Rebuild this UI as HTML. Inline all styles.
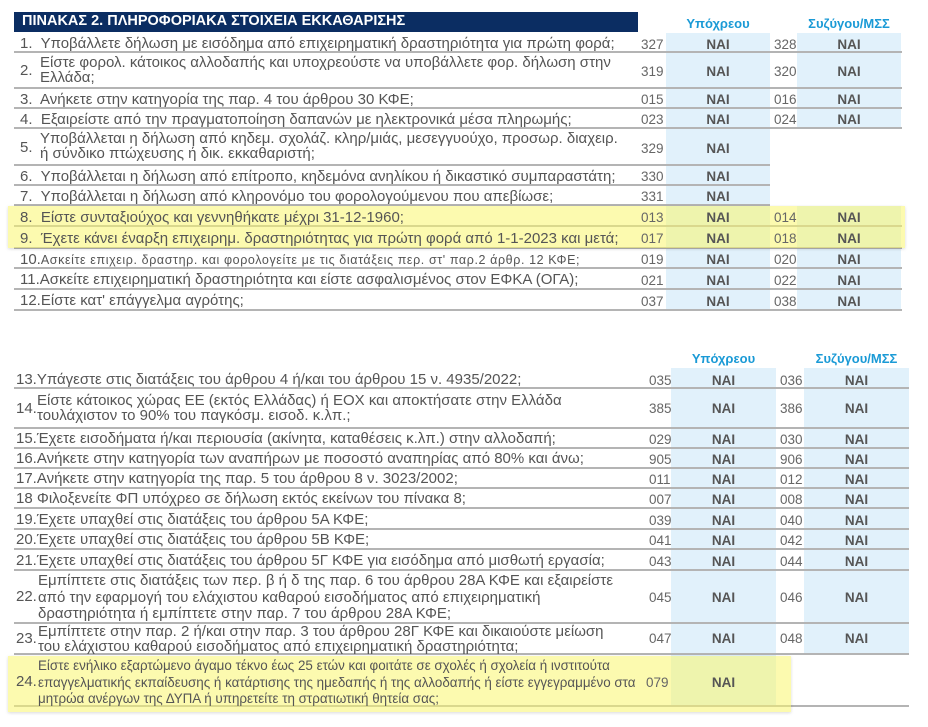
<!DOCTYPE html>
<html><head><meta charset="utf-8">
<style>
*{margin:0;padding:0;box-sizing:border-box}
body{width:928px;height:727px;background:#fff;position:relative;overflow:hidden;font-family:"Liberation Sans","DejaVu Sans",sans-serif;color:#555}
.a{position:absolute}
.blue{position:absolute;background:#e1f1fb}
.line{position:absolute;height:2px;background:#b4b4b4}
.t{position:absolute;white-space:nowrap;font-size:15px;line-height:15px;color:#555}
.c{position:absolute;font-size:13.5px;color:#666;white-space:nowrap}
.n{position:absolute;font-size:13.5px;font-weight:bold;color:#555;text-align:center}
.h{position:absolute;font-size:13px;font-weight:bold;color:#1a9ad6;text-align:center}
.y{position:absolute;background:rgba(250,245,110,0.55);box-shadow:0 1px 3px rgba(0,0,0,0.15)}
</style></head><body>

<div class="a" style="left:14px;top:12px;width:624px;height:20px;background:#0b2d62"></div>
<div class="t" style="left:22px;top:14px;color:#fff;font-weight:bold;font-size:14.5px">ΠΙΝΑΚΑΣ 2. ΠΛΗΡΟΦΟΡΙΑΚΑ ΣΤΟΙΧΕΙΑ ΕΚΚΑΘΑΡΙΣΗΣ</div>
<div class="h" style="left:666px;top:16px;width:104px">Υπόχρεου</div>
<div class="h" style="left:797px;top:16px;width:104px">Συζύγου/ΜΣΣ</div>

<div class="blue" style="left:666px;top:33px;width:104px;height:277px"></div>
<div class="blue" style="left:797px;top:33px;width:104px;height:95px"></div>
<div class="blue" style="left:797px;top:206px;width:104px;height:104px"></div>

<div class="line" style="left:14px;top:51px;width:888px"></div>
<div class="line" style="left:14px;top:87px;width:888px"></div>
<div class="line" style="left:14px;top:107px;width:888px"></div>
<div class="line" style="left:14px;top:127px;width:888px"></div>
<div class="line" style="left:14px;top:164px;width:756px"></div>
<div class="line" style="left:14px;top:184px;width:756px"></div>
<div class="line" style="left:14px;top:204px;width:756px"></div>
<div class="line" style="left:14px;top:225px;width:888px"></div>
<div class="line" style="left:14px;top:247px;width:888px"></div>
<div class="line" style="left:14px;top:267px;width:888px"></div>
<div class="line" style="left:14px;top:288px;width:888px"></div>
<div class="line" style="left:14px;top:309px;width:888px"></div>

<div class="y" style="left:8px;top:206px;width:897px;height:42px"></div>

<div class="t" style="left:20px;top:36px">1.&nbsp; Υποβάλλετε δήλωση με εισόδημα από επιχειρηματική δραστηριότητα για πρώτη φορά;</div>
<div class="c" style="left:641px;top:37px">327</div><div class="n" style="left:666px;top:37px;width:104px">ΝΑΙ</div>
<div class="c" style="left:774px;top:37px">328</div><div class="n" style="left:797px;top:37px;width:104px">ΝΑΙ</div>

<div class="t" style="left:20px;top:63px">2.</div>
<div class="t" style="left:40px;top:55px">Είστε φορολ. κάτοικος αλλοδαπής και υποχρεούστε να υποβάλλετε φορ. δήλωση στην<br>Ελλάδα;</div>
<div class="c" style="left:641px;top:64px">319</div><div class="n" style="left:666px;top:64px;width:104px">ΝΑΙ</div>
<div class="c" style="left:774px;top:64px">320</div><div class="n" style="left:797px;top:64px;width:104px">ΝΑΙ</div>

<div class="t" style="left:20px;top:92px">3.&nbsp; Ανήκετε στην κατηγορία της παρ. 4 του άρθρου 30 ΚΦΕ;</div>
<div class="c" style="left:641px;top:92px">015</div><div class="n" style="left:666px;top:92px;width:104px">ΝΑΙ</div>
<div class="c" style="left:774px;top:92px">016</div><div class="n" style="left:797px;top:92px;width:104px">ΝΑΙ</div>

<div class="t" style="left:20px;top:112px">4.&nbsp; Εξαιρείστε από την πραγματοποίηση δαπανών με ηλεκτρονικά μέσα πληρωμής;</div>
<div class="c" style="left:641px;top:112px">023</div><div class="n" style="left:666px;top:112px;width:104px">ΝΑΙ</div>
<div class="c" style="left:774px;top:112px">024</div><div class="n" style="left:797px;top:112px;width:104px">ΝΑΙ</div>

<div class="t" style="left:20px;top:140px">5.</div>
<div class="t" style="left:40px;top:131px">Υποβάλλεται η δήλωση από κηδεμ. σχολάζ. κληρ/μιάς, μεσεγγυούχο, προσωρ. διαχειρ.<br>ή σύνδικο πτώχευσης ή δικ. εκκαθαριστή;</div>
<div class="c" style="left:641px;top:141px">329</div><div class="n" style="left:666px;top:141px;width:104px">ΝΑΙ</div>

<div class="t" style="left:20px;top:169px">6.&nbsp; Υποβάλλεται η δήλωση από επίτροπο, κηδεμόνα ανηλίκου ή δικαστικό συμπαραστάτη;</div>
<div class="c" style="left:641px;top:169px">330</div><div class="n" style="left:666px;top:169px;width:104px">ΝΑΙ</div>

<div class="t" style="left:20px;top:189px">7.&nbsp; Υποβάλλεται η δήλωση από κληρονόμο του φορολογούμενου που απεβίωσε;</div>
<div class="c" style="left:641px;top:189px">331</div><div class="n" style="left:666px;top:189px;width:104px">ΝΑΙ</div>

<div class="t" style="left:20px;top:210px">8.&nbsp; Είστε συνταξιούχος και γεννηθήκατε μέχρι 31-12-1960;</div>
<div class="c" style="left:641px;top:210px">013</div><div class="n" style="left:666px;top:210px;width:104px">ΝΑΙ</div>
<div class="c" style="left:774px;top:210px">014</div><div class="n" style="left:797px;top:210px;width:104px">ΝΑΙ</div>

<div class="t" style="left:20px;top:231px">9.&nbsp; Έχετε κάνει έναρξη επιχειρημ. δραστηριότητας για πρώτη φορά από 1-1-2023 και μετά;</div>
<div class="c" style="left:641px;top:231px">017</div><div class="n" style="left:666px;top:231px;width:104px">ΝΑΙ</div>
<div class="c" style="left:774px;top:231px">018</div><div class="n" style="left:797px;top:231px;width:104px">ΝΑΙ</div>

<div class="t" style="left:20px;top:252px">10.<span style="font-size:12.5px;letter-spacing:0.6px">Ασκείτε επιχειρ. δραστηρ. και φορολογείτε με τις διατάξεις περ. στ' παρ.2 άρθρ. 12 ΚΦΕ;</span></div>
<div class="c" style="left:641px;top:252px">019</div><div class="n" style="left:666px;top:252px;width:104px">ΝΑΙ</div>
<div class="c" style="left:774px;top:252px">020</div><div class="n" style="left:797px;top:252px;width:104px">ΝΑΙ</div>

<div class="t" style="left:20px;top:272px">11.Ασκείτε επιχειρηματική δραστηριότητα και είστε ασφαλισμένος στον ΕΦΚΑ (ΟΓΑ);</div>
<div class="c" style="left:641px;top:273px">021</div><div class="n" style="left:666px;top:273px;width:104px">ΝΑΙ</div>
<div class="c" style="left:774px;top:273px">022</div><div class="n" style="left:797px;top:273px;width:104px">ΝΑΙ</div>

<div class="t" style="left:20px;top:293px">12.Είστε κατ' επάγγελμα αγρότης;</div>
<div class="c" style="left:641px;top:294px">037</div><div class="n" style="left:666px;top:294px;width:104px">ΝΑΙ</div>
<div class="c" style="left:774px;top:294px">038</div><div class="n" style="left:797px;top:294px;width:104px">ΝΑΙ</div>

<div class="h" style="left:671px;top:351px;width:105px">Υπόχρεου</div>
<div class="h" style="left:804px;top:351px;width:105px">Συζύγου/ΜΣΣ</div>
<div class="blue" style="left:671px;top:368px;width:105px;height:338px"></div>
<div class="blue" style="left:804px;top:368px;width:105px;height:286px"></div>

<div class="line" style="left:14px;top:387px;width:895px"></div>
<div class="line" style="left:14px;top:427px;width:895px"></div>
<div class="line" style="left:14px;top:447px;width:895px"></div>
<div class="line" style="left:14px;top:467px;width:895px"></div>
<div class="line" style="left:14px;top:487px;width:895px"></div>
<div class="line" style="left:14px;top:507px;width:895px"></div>
<div class="line" style="left:14px;top:528px;width:895px"></div>
<div class="line" style="left:14px;top:548px;width:895px"></div>
<div class="line" style="left:14px;top:569px;width:895px"></div>
<div class="line" style="left:14px;top:622px;width:895px"></div>
<div class="line" style="left:14px;top:653px;width:895px"></div>
<div class="line" style="left:14px;top:705px;width:895px"></div>

<div class="y" style="left:8px;top:656px;width:783px;height:56px"></div>

<div class="t" style="left:16px;top:372px">13.Υπάγεστε στις διατάξεις του άρθρου 4 ή/και του άρθρου 15 ν. 4935/2022;</div>
<div class="c" style="left:649px;top:373px">035</div><div class="n" style="left:671px;top:373px;width:105px">ΝΑΙ</div>
<div class="c" style="left:780px;top:373px">036</div><div class="n" style="left:804px;top:373px;width:105px">ΝΑΙ</div>

<div class="t" style="left:16px;top:401px">14.</div>
<div class="t" style="left:37px;top:393px">Είστε κάτοικος χώρας ΕΕ (εκτός Ελλάδας) ή ΕΟΧ και αποκτήσατε στην Ελλάδα<br>τουλάχιστον το 90% του παγκόσμ. εισοδ. κ.λπ.;</div>
<div class="c" style="left:649px;top:401px">385</div><div class="n" style="left:671px;top:401px;width:105px">ΝΑΙ</div>
<div class="c" style="left:780px;top:401px">386</div><div class="n" style="left:804px;top:401px;width:105px">ΝΑΙ</div>

<div class="t" style="left:16px;top:431px">15.Έχετε εισοδήματα ή/και περιουσία (ακίνητα, καταθέσεις κ.λπ.) στην αλλοδαπή;</div>
<div class="c" style="left:649px;top:432px">029</div><div class="n" style="left:671px;top:432px;width:105px">ΝΑΙ</div>
<div class="c" style="left:780px;top:432px">030</div><div class="n" style="left:804px;top:432px;width:105px">ΝΑΙ</div>

<div class="t" style="left:16px;top:451px">16.Ανήκετε στην κατηγορία των αναπήρων με ποσοστό αναπηρίας από 80% και άνω;</div>
<div class="c" style="left:649px;top:452px">905</div><div class="n" style="left:671px;top:452px;width:105px">ΝΑΙ</div>
<div class="c" style="left:780px;top:452px">906</div><div class="n" style="left:804px;top:452px;width:105px">ΝΑΙ</div>

<div class="t" style="left:16px;top:471px">17.Ανήκετε στην κατηγορία της παρ. 5 του άρθρου 8 ν. 3023/2002;</div>
<div class="c" style="left:649px;top:472px">011</div><div class="n" style="left:671px;top:472px;width:105px">ΝΑΙ</div>
<div class="c" style="left:780px;top:472px">012</div><div class="n" style="left:804px;top:472px;width:105px">ΝΑΙ</div>

<div class="t" style="left:16px;top:491px">18 Φιλοξενείτε ΦΠ υπόχρεο σε δήλωση εκτός εκείνων του πίνακα 8;</div>
<div class="c" style="left:649px;top:492px">007</div><div class="n" style="left:671px;top:492px;width:105px">ΝΑΙ</div>
<div class="c" style="left:780px;top:492px">008</div><div class="n" style="left:804px;top:492px;width:105px">ΝΑΙ</div>

<div class="t" style="left:16px;top:512px">19.Έχετε υπαχθεί στις διατάξεις του άρθρου 5Α ΚΦΕ;</div>
<div class="c" style="left:649px;top:513px">039</div><div class="n" style="left:671px;top:513px;width:105px">ΝΑΙ</div>
<div class="c" style="left:780px;top:513px">040</div><div class="n" style="left:804px;top:513px;width:105px">ΝΑΙ</div>

<div class="t" style="left:16px;top:532px">20.Έχετε υπαχθεί στις διατάξεις του άρθρου 5Β ΚΦΕ;</div>
<div class="c" style="left:649px;top:533px">041</div><div class="n" style="left:671px;top:533px;width:105px">ΝΑΙ</div>
<div class="c" style="left:780px;top:533px">042</div><div class="n" style="left:804px;top:533px;width:105px">ΝΑΙ</div>

<div class="t" style="left:16px;top:553px">21.Έχετε υπαχθεί στις διατάξεις του άρθρου 5Γ ΚΦΕ για εισόδημα από μισθωτή εργασία;</div>
<div class="c" style="left:649px;top:554px">043</div><div class="n" style="left:671px;top:554px;width:105px">ΝΑΙ</div>
<div class="c" style="left:780px;top:554px">044</div><div class="n" style="left:804px;top:554px;width:105px">ΝΑΙ</div>

<div class="t" style="left:16px;top:589px">22.</div>
<div class="t" style="left:38px;top:573px;font-size:15px;line-height:16.5px">Εμπίπτετε στις διατάξεις των περ. β ή δ της παρ. 6 του άρθρου 28Α ΚΦΕ και εξαιρείστε<br>από την εφαρμογή του ελάχιστου καθαρού εισοδήματος από επιχειρηματική<br>δραστηριότητα ή εμπίπτετε στην παρ. 7 του άρθρου 28Α ΚΦΕ;</div>
<div class="c" style="left:649px;top:590px">045</div><div class="n" style="left:671px;top:590px;width:105px">ΝΑΙ</div>
<div class="c" style="left:780px;top:590px">046</div><div class="n" style="left:804px;top:590px;width:105px">ΝΑΙ</div>

<div class="t" style="left:16px;top:631px">23.</div>
<div class="t" style="left:38px;top:624px;font-size:15px;line-height:15px">Εμπίπτετε στην παρ. 2 ή/και στην παρ. 3 του άρθρου 28Γ ΚΦΕ και δικαιούστε μείωση<br>του ελάχιστου καθαρού εισοδήματος από επιχειρηματική δραστηριότητα;</div>
<div class="c" style="left:649px;top:631px">047</div><div class="n" style="left:671px;top:631px;width:105px">ΝΑΙ</div>
<div class="c" style="left:780px;top:631px">048</div><div class="n" style="left:804px;top:631px;width:105px">ΝΑΙ</div>

<div class="t" style="left:16px;top:674px">24.</div>
<div class="t" style="left:38px;top:658px;font-size:13.4px;line-height:16.5px">Είστε ενήλικο εξαρτώμενο άγαμο τέκνο έως 25 ετών και φοιτάτε σε σχολές ή σχολεία ή ινστιτούτα<br>επαγγελματικής εκπαίδευσης ή κατάρτισης της ημεδαπής ή της αλλοδαπής ή είστε εγγεγραμμένο στα<br>μητρώα ανέργων της ΔΥΠΑ ή υπηρετείτε τη στρατιωτική θητεία σας;</div>
<div class="c" style="left:646px;top:675px">079</div><div class="n" style="left:671px;top:675px;width:105px">ΝΑΙ</div>

</body></html>
